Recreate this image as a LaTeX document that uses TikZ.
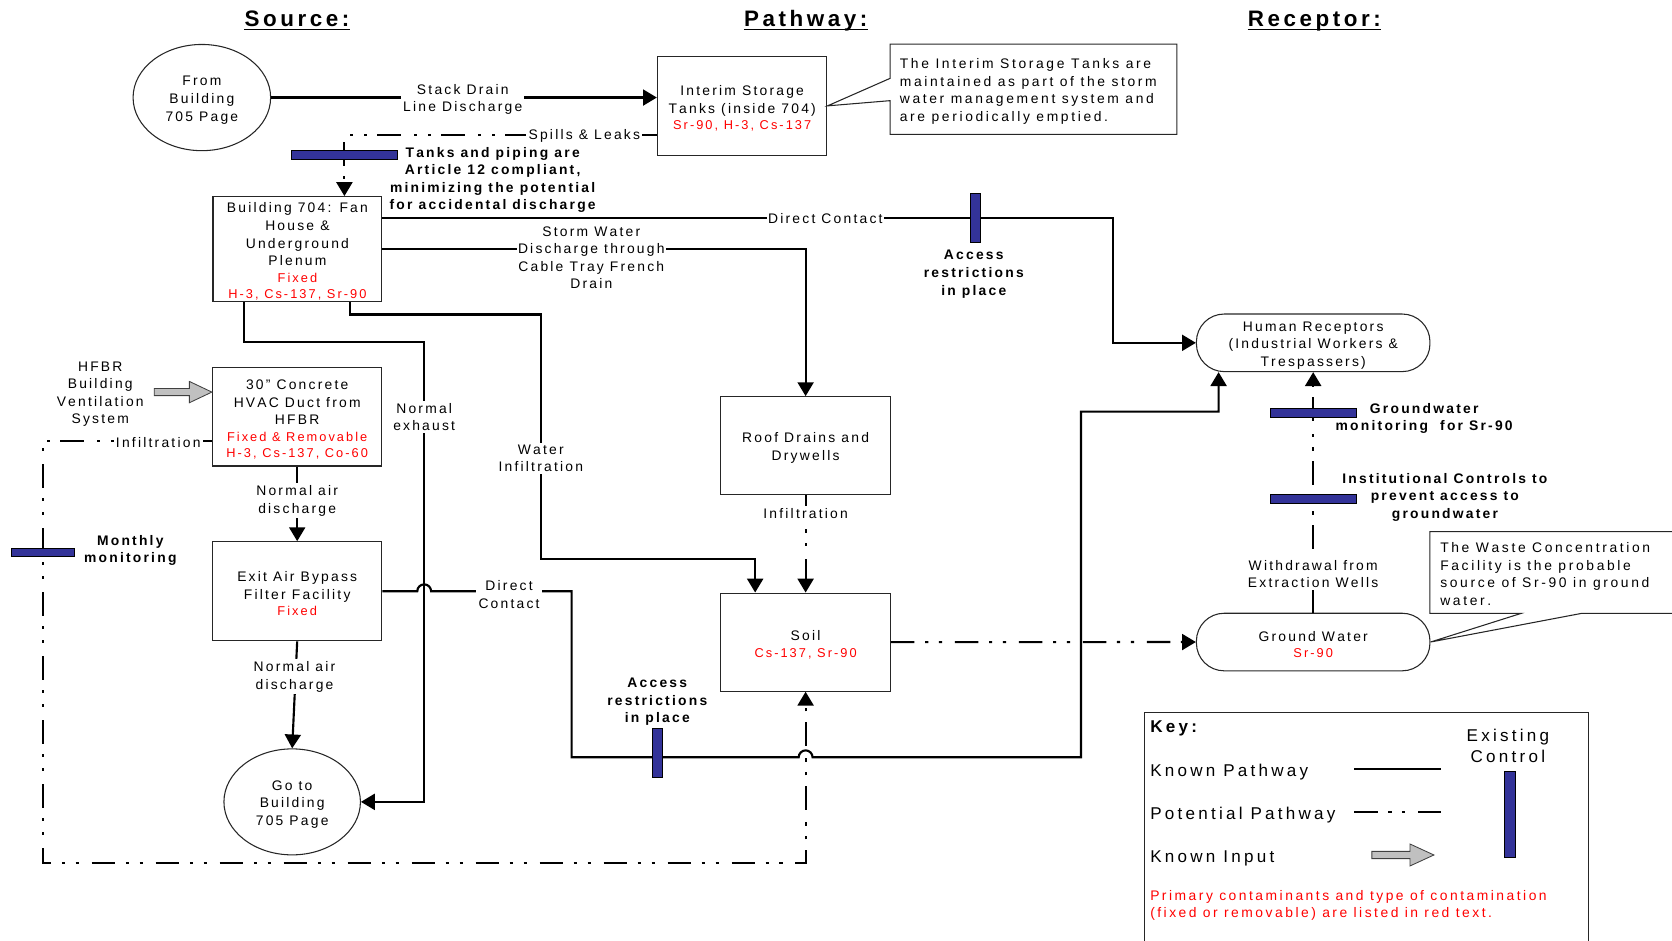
\documentclass[tikz,border=0pt]{standalone}
\usepackage{fontspec}
\setmainfont{Liberation Sans}[LetterSpace=16,Ligatures=NoCommon,Kerning=Off]
\usetikzlibrary{shapes.geometric,arrows.meta,calc}
\definecolor{cred}{HTML}{FF0000}
\definecolor{cblue}{HTML}{333399}
\definecolor{cgray}{HTML}{C0C0C0}
\newcommand{\ftxt}{\fontsize{13}{16.5}\selectfont}
\newcommand{\fkey}{\fontsize{16}{20}\selectfont\addfontfeatures{LetterSpace=19}}
\newcommand{\rtx}[1]{{\color{cred}\fontsize{12}{15}\selectfont #1}}
\newcommand{\tstrut}{\rule{0pt}{14pt}}
\begin{document}
\begin{tikzpicture}[x=1pt,y=-1pt,
 box/.style={draw=black!85,line width=1pt,minimum width=159pt,minimum height=92pt,inner sep=1pt,align=center,font=\ftxt},
 ell/.style={draw=black!85,line width=1pt,ellipse,inner sep=0pt,align=center,font=\ftxt},
 pill/.style={draw=black!85,line width=1pt,rounded corners=26pt,minimum width=219pt,minimum height=54pt,inner sep=0pt,align=center,font=\ftxt},
 known/.style={line width=2pt},
 pot/.style={line width=2pt,dash pattern=on 22pt off 10pt on 3pt off 10pt on 3pt off 12pt},
 arr/.style={-{Triangle[length=13pt,width=15pt]}},
 lbl/.style={fill=white,inner sep=2pt,align=center,font=\ftxt,yshift=-2pt},
 txt/.style={inner sep=0pt,align=center,font=\ftxt,yshift=-2pt},
 btxt/.style={inner sep=0pt,align=center,font=\ftxt\bfseries,yshift=-2.3pt},
 ctrl/.style={draw=black,line width=0.6pt,fill=cblue,inner sep=0pt},
 title/.style={inner sep=0pt,font=\fontsize{21}{25}\selectfont\bfseries},
 block/.style={fill=cgray,draw=black!75,line width=0.8pt},
 note/.style={draw=black!85,line width=1pt}
]
\useasboundingbox (0,0) rectangle (1568,882);

% titles
\node[title,anchor=base] (tsrc) at (278.5,25) {Source:};
\node[title,anchor=base] (tpath) at (755.6,25) {Pathway:};
\node[title,anchor=base] (trec) at (1232.6,25) {Receptor:};
\foreach \t in {tsrc,tpath,trec}{\draw[line width=1.3pt] ([yshift=-2.5pt]\t.base west) -- ([yshift=-2.5pt]\t.base east);}

% main nodes
\node[ell,minimum width=129pt,minimum height=99.6pt] (from705) at (189.3,91.5) {\tstrut From\\Building\\705 Page};
\node[box,minimum height=92.3pt] (interim) at (696,99.3) {\tstrut Interim Storage\\Tanks (inside 704)\\[-1pt]\rtx{Sr-90, H-3, Cs-137}};
\node[box,minimum width=158.3pt,minimum height=98.6pt] (b704) at (278.9,233.7) {\tstrut Building 704: Fan\\House \&\\Underground\\Plenum\\[-1pt]\rtx{Fixed}\\[-1pt]\rtx{H-3, Cs-137, Sr-90}};
\node[box,minimum height=92.2pt] (hvac) at (278.7,390.9) {\tstrut 30\char34{} Concrete\\HVAC Duct from\\HFBR\\[-1pt]\rtx{Fixed \& Removable}\\[-1.5pt]\rtx{H-3, Cs-137, Co-60}};
\node[box,minimum height=93pt] (exitair) at (278.7,554.5) {\tstrut Exit Air Bypass\\Filter Facility\\[-1.5pt]\rtx{Fixed}};
\node[box] (roof) at (755.5,418) {\tstrut Roof Drains and\\Drywells};
\node[box] (soil) at (755.5,602.2) {\tstrut Soil\\[-1pt]\rtx{Cs-137, Sr-90}};
\node[ell,minimum width=128pt,minimum height=99.4pt] (goto705) at (274,752) {\tstrut Go to\\Building\\705 Page};
\node[pill] (hr) at (1231.5,321.5) {\tstrut Human Receptors\\(Industrial Workers \&\\Trespassers)};
\node[pill] (gw) at (1231.5,602.1) {\tstrut Ground Water\\[-1pt]\rtx{Sr-90}};

% notes (callouts)
\draw[note] (1103.6,41.3) -- (834.7,41.3) -- (834.7,73.5) -- (interim.east) -- (834.7,94.4) -- (834.7,126) -- (1103.6,126) -- cycle;
\node[txt,align=left,anchor=west,font=\ftxt\addfontfeatures{LetterSpace=19}] (n1) at (843.7,83.6) {The Interim Storage Tanks are\\maintained as part of the storm\\water management system and\\are periodically emptied.};
\draw[note] (1568,498.6) -- (1341,498.6) -- (1341,575.2) -- (1426.6,575.2) -- (gw.east) -- (1483.3,575.2) -- (1568,575.2);
\node[txt,align=left,anchor=west,font=\ftxt\addfontfeatures{LetterSpace=19}] (n2) at (1350.5,536.4) {The Waste Concentration\\Facility is the probable\\source of Sr-90 in ground\\water.};

% stack drain
\draw[known,arr] (from705.east) -- (from705.east -| interim.west);
\node[lbl] (lsd) at (434,91.1) {Stack Drain\\Line Discharge};

% spills & leaks
\coordinate (c1) at (323,126.3);
\draw[pot,arr] (interim.west |- c1) -- (c1) -- (c1 |- b704.north);
\node[lbl,yshift=1pt] (lsl) at (548,126.3) {Spills \& Leaks};
\node[ctrl,minimum width=100pt,minimum height=8pt] (cb0) at (323,145.4) {};
\node[btxt] (ltanks) at (462,166.5) {Tanks and piping are\\Article 12 compliant,\\minimizing the potential\\for accidental discharge};

% direct contact (top)
\coordinate (c2) at (1043.8,204.7);
\draw[known,arr] (b704.east |- c2) -- (c2) -- (c2 |- hr.west) -- (hr.west);
\node[lbl,inner sep=1.5pt,yshift=1pt] (ldc1) at (774,203.5) {Direct Contact};
\node[ctrl,minimum width=10pt,minimum height=46pt] (cb1) at (914.7,204.5) {};
\node[btxt] (lacc1) at (913.2,254.8) {Access\\restrictions\\in place};

% storm water
\coordinate (c3) at (755.5,233.3);
\draw[known,arr] (b704.east |- c3) -- (c3) -- (roof.north);
\node[lbl,inner sep=1pt] (lsw) at (554.5,239.8) {Storm Water\\Discharge through\\Cable Tray French\\Drain};

% normal exhaust
\coordinate (c4) at (229,320.4);
\coordinate (c5) at (397.8,320.4);
\draw[known,arr] (c4 |- b704.south) -- (c4) -- (c5) -- (c5 |- goto705.east) -- (goto705.east);
\node[lbl] (lne) at (397.8,389) {Normal\\exhaust};

% water infiltration
\coordinate (c6) at (328.5,295);
\coordinate (c7) at (507.2,295);
\coordinate (c8) at (507.2,524.6);
\coordinate (c9) at (708.2,524.6);
\draw[known,arr] (c6 |- b704.south) -- (c6) -- (c7) -- (c8) -- (c9) -- (c9 |- soil.north);
\node[lbl] (lwi) at (507.2,427.8) {Water\\Infiltration};

% HFBR known input
\node[txt] (hfbr) at (94,367.7) {HFBR\\Building\\Ventilation\\System};
\coordinate (hin) at (144.6,367.7);
\filldraw[block] (144.6,364.4) -- (177.6,364.4) -- (177.6,357.7) -- (hvac.west |- hin) -- (177.6,377.7) -- (177.6,371) -- (144.6,371) -- cycle;

% infiltration (left, potential)
\coordinate (c10) at (40.4,413.6);
\coordinate (c11) at (40.4,809.7);
\coordinate (c12) at (755.5,809.7);
\draw[pot,arr] (hvac.west |- c10) -- (c10) -- (c11) -- (c12) -- (soil.south);
\node[lbl,yshift=1pt] (linf1) at (148.4,413.6) {Infiltration};
\node[ctrl,minimum width=59pt,minimum height=8pt] (cb2) at (40.4,518) {};
\node[btxt] (lmon) at (122.2,514) {Monthly\\monitoring};

% normal air discharge
\draw[known,arr] (hvac.south) -- (exitair.north);
\node[lbl] (lnad1) at (278.7,467.7) {Normal air\\discharge};
\draw[known,arr] (exitair.south) -- (goto705.north);
\node[lbl] (lnad2) at (276.2,632.7) {Normal air\\discharge};

% direct contact (bottom)
\coordinate (c13) at (536.1,554.5);
\coordinate (c14) at (536.1,710.2);
\coordinate (c15) at (1013.8,710.2);
\coordinate (c16) at (1013.8,386);
\coordinate (c17) at (1142.8,386);
\draw[known,arr] (exitair.east) -- (391.3,554.5) arc[start angle=180,end angle=0,radius=6.5pt] -- (c13) -- (c14) -- (749,710.2) arc[start angle=180,end angle=0,radius=6.5pt] -- (c15) -- (c16) -- (c17) -- (c17 |- hr.south);
\node[lbl] (ldc2) at (477.4,555.7) {Direct\\Contact};
\node[ctrl,minimum width=10pt,minimum height=46pt] (cb3) at (616.5,706) {};
\node[btxt] (lacc2) at (616.4,656) {Access\\restrictions\\in place};

% roof -> soil
\draw[pot,arr] (roof.south) -- (soil.north);
\node[lbl] (linf2) at (755.5,479.2) {Infiltration};

% soil -> ground water
\draw[pot,arr] (soil.east) -- (gw.west);

% ground water -> human receptors
\draw[pot,arr] (gw.north) -- (hr.south);
\node[lbl] (lwd) at (1231.5,536.2) {Withdrawal from\\Extraction Wells};
\node[ctrl,minimum width=80pt,minimum height=8pt] (cb4) at (1231.5,387) {};
\node[ctrl,minimum width=80pt,minimum height=8pt] (cb5) at (1231.5,468) {};
\node[btxt] (lgwm) at (1335.6,390.3) {Groundwater\\monitoring \ for Sr-90};
\node[btxt] (linst) at (1355,464.1) {Institutional Controls to\\prevent access to\\groundwater};

% key
\draw[note] (1073.3,882) -- (1073.3,668) -- (1490,668) -- (1490,882);
\node[inner sep=0pt,anchor=base west,font=\fkey\bfseries] (kkey) at (1078.5,686.6) {Key:};
\node[inner sep=0pt,anchor=base west,font=\fkey] (kkp) at (1078.5,727.8) {Known Pathway};
\node[inner sep=0pt,anchor=base west,font=\fkey] (kpp) at (1078.5,768.5) {Potential Pathway};
\node[inner sep=0pt,anchor=base west,font=\fkey] (kki) at (1078.5,809.1) {Known Input};
\coordinate (k1a) at (1270,721.2);
\coordinate (k1b) at (1351.4,721.2);
\draw[known] (k1a) -- (k1b);
\coordinate (k2a) at (1270,761.8);
\coordinate (k2b) at (1351.4,761.8);
\draw[pot] (k2a) -- (k2b);
\filldraw[block] (1286.5,798.4) -- (1322.3,798.4) -- (1322.3,791.5) -- (1344.7,801.8) -- (1322.3,812.1) -- (1322.3,805.2) -- (1286.5,805.2) -- cycle;
\node[inner sep=0pt,align=center,font=\fkey] (kec) at (1414.1,699.5) {Existing\\Control};
\node[ctrl,minimum width=10.3pt,minimum height=81pt] (kcb) at (1415.9,763.5) {};
\node[inner sep=0pt,anchor=west,align=left,text=cred,font=\fontsize{13}{16.3}\selectfont\addfontfeatures{LetterSpace=18}] (kred) at (1078.5,849) {Primary contaminants and type of contamination\\(fixed or removable) are listed in red text.};
\end{tikzpicture}
\end{document}
